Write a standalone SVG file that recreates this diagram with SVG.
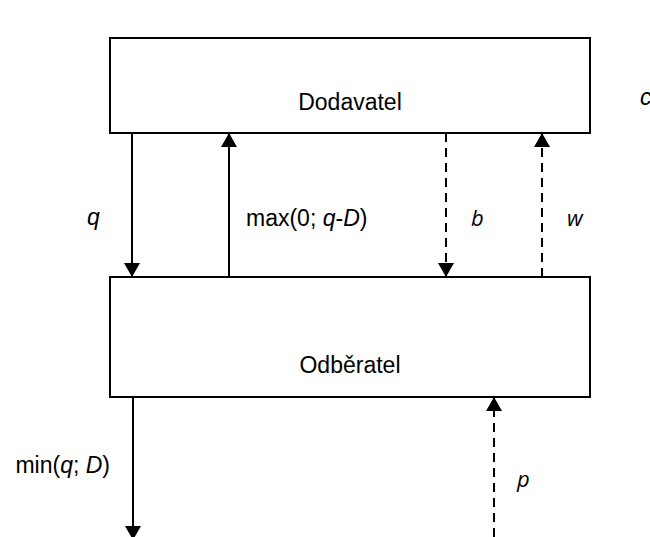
<svg xmlns="http://www.w3.org/2000/svg" width="650" height="537" viewBox="0 0 650 537">
  <style>
    .box { fill: #fff; stroke: #000; stroke-width: 2; }
    .flow { stroke: #000; stroke-width: 2; fill: none; }
    .dash { stroke-dasharray: 9 6; }
    text { font-family: "Liberation Sans", Arial, sans-serif; font-size: 23px; fill: #000; }
    .i { font-style: italic; }
    .h { font-family: "Open Sans", "Liberation Sans", sans-serif; font-style: italic; font-size: 22px; }
  </style>
  <defs>
    <marker id="arr" viewBox="0 0 14 16" refX="14" refY="8" markerWidth="14" markerHeight="16" markerUnits="userSpaceOnUse" orient="auto">
      <path d="M0,0 L14,8 L0,16 Z" fill="#000"/>
    </marker>
  </defs>

  <!-- supplier block -->
  <g id="dodavatel">
    <rect class="box" x="110" y="38" width="480" height="95"/>
    <text x="350" y="110" text-anchor="middle">Dodavatel</text>
  </g>

  <!-- buyer block -->
  <g id="odberatel">
    <rect class="box" x="110" y="277" width="480" height="120"/>
    <text x="350" y="373" text-anchor="middle">Odběratel</text>
  </g>

  <!-- material flows solid, money flows dashed -->
  <g id="connectors">
    <line class="flow" x1="132" y1="133" x2="132" y2="277" marker-end="url(#arr)"/>
    <line class="flow" x1="229" y1="277" x2="229" y2="133" marker-end="url(#arr)"/>
    <line class="flow dash" x1="446" y1="133" x2="446" y2="277" marker-end="url(#arr)"/>
    <line class="flow dash" x1="542" y1="277" x2="542" y2="133" marker-end="url(#arr)"/>
    <line class="flow" x1="133" y1="397" x2="133" y2="540" marker-end="url(#arr)"/>
    <line class="flow dash" x1="494" y1="537" x2="494" y2="397" marker-end="url(#arr)"/>
  </g>

  <g id="labels">
    <text class="i" x="640" y="105">c</text>
    <text class="i" x="87" y="225">q</text>
    <text x="246" y="226">max(0; <tspan class="i">q</tspan>-<tspan class="i">D</tspan>)</text>
    <text class="h" x="471" y="226">b</text>
    <text class="h" x="567" y="226">w</text>
    <text x="110" y="473" text-anchor="end">min(<tspan class="i">q</tspan>; <tspan class="i">D</tspan>)</text>
    <text class="h" x="517" y="487">p</text>
  </g>
</svg>
